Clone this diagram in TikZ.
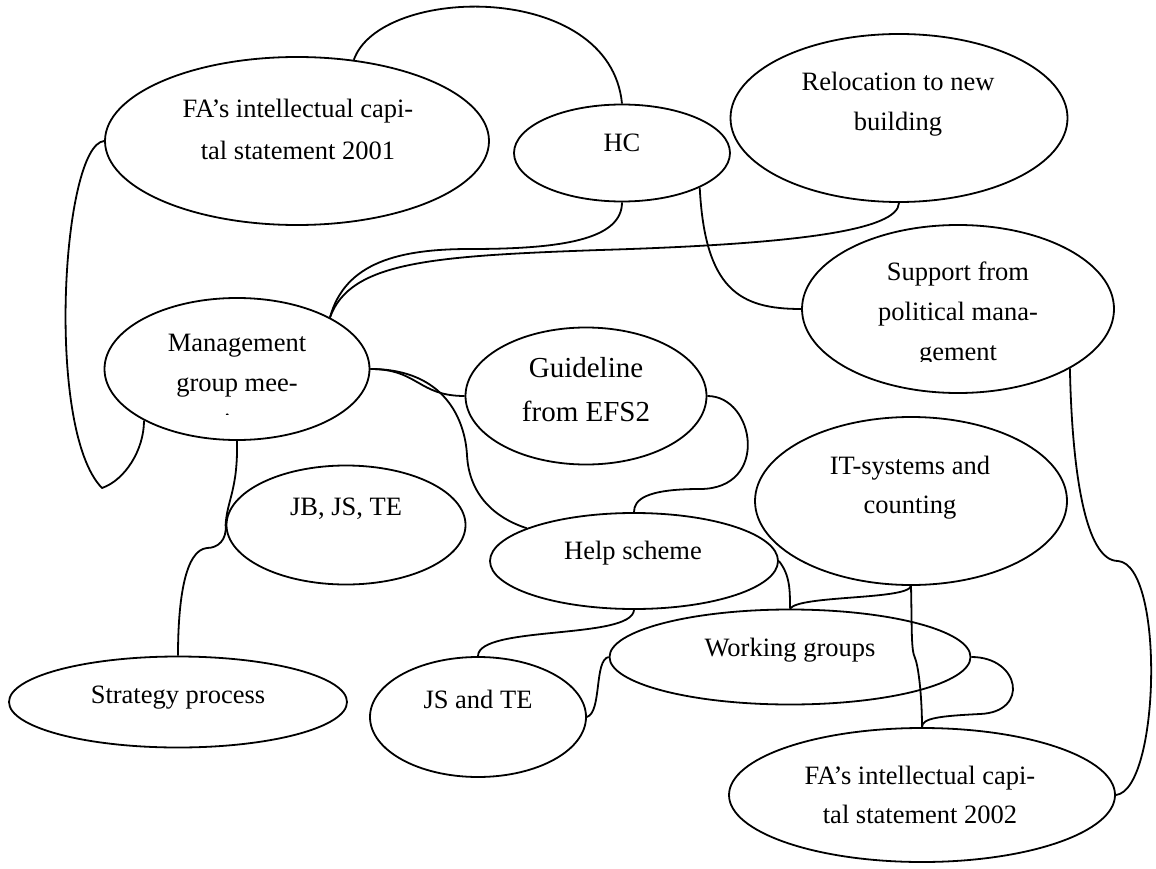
\documentclass[tikz,border=0pt]{standalone}
\usepackage{fontspec}
\setmainfont{Liberation Serif}
\usetikzlibrary{shapes.geometric}
\tikzset{
  bubble/.style={draw,ellipse,line width=1.8pt,inner sep=0pt},
  lbl/.style={anchor=north,align=center,inner sep=0pt,font=\fontsize{26.5}{40}\selectfont},
  link/.style={line width=1.8pt},
}
\begin{document}
\begin{tikzpicture}[x=1pt,y=-1pt,line join=round]
\useasboundingbox[fill=white](0,0) rectangle (1156,869);
\node[bubble,minimum width=384pt,minimum height=168pt] (fa01) at (297,141) {};
\node[bubble,minimum width=216pt,minimum height=97pt] (hc) at (622,153) {};
\node[bubble,minimum width=337pt,minimum height=168pt] (reloc) at (899,118) {};
\node[bubble,minimum width=265pt,minimum height=142pt] (mgmt) at (237,369) {};
\node[bubble,minimum width=241pt,minimum height=137pt] (guide) at (586,396) {};
\node[bubble,minimum width=312pt,minimum height=168pt] (support) at (958,309) {};
\node[bubble,minimum width=239pt,minimum height=119pt] (jbjste) at (346,525) {};
\node[bubble,minimum width=288pt,minimum height=96pt] (help) at (634,561) {};
\node[bubble,minimum width=312pt,minimum height=168pt] (it) at (911,501) {};
\node[bubble,minimum width=338pt,minimum height=91pt] (strat) at (178,702) {};
\node[bubble,minimum width=216pt,minimum height=120pt] (jste) at (478,717) {};
\node[bubble,minimum width=361pt,minimum height=95pt] (work) at (790,657) {};
\node[bubble,minimum width=386pt,minimum height=134pt] (fa02) at (922,795) {};
\node[lbl,font=\fontsize{26.5}{42}\selectfont] (fa01t) at (298,99) {FA’s intellectual capi-\\tal statement 2001};
\node[lbl] (hct) at (622,134) {HC};
\node[lbl] (reloct) at (898,72) {Relocation to new\\building};
\begin{scope}
\clip (105,298) rectangle (370,414.5);
\node[lbl] (mgmtt) at (237,334) {Management\\group mee-\\ting};
\end{scope}
\node[lbl,font=\fontsize{29}{44}\selectfont] (guidet) at (586,357) {Guideline\\from EFS2};
\begin{scope}
\clip (802,225) rectangle (1114,361);
\node[lbl] (supportt) at (958,262) {Support from\\political mana-\\gement};
\end{scope}
\node[lbl] (jbjstet) at (346,498) {JB, JS, TE};
\node[lbl] (helpt) at (633,541) {Help scheme};
\node[lbl,font=\fontsize{26.5}{39}\selectfont] (itt) at (910,456) {IT-systems and\\counting};
\node[lbl] (stratt) at (178,686) {Strategy process};
\node[lbl] (jstet) at (478,690) {JS and TE};
\node[lbl] (workt) at (790,638) {Working groups};
\node[lbl,font=\fontsize{26.5}{39}\selectfont] (fa02t) at (920,766) {FA’s intellectual capi-\\tal statement 2002};
\draw[link] (fa01.55) .. controls (380,-15) and (610,-20) .. (hc.north);
\draw[link] (fa01.west) .. controls (62,145) and (45,430) .. (102,488) .. controls (125,480) and (144,450) .. (mgmt.209);
\draw[link] (mgmt.29) .. controls (345,262) and (400,249) .. (470,249) .. controls (560,249) and (622,240) .. (hc.south);
\draw[link] (mgmt.29) .. controls (350,262) and (430,256) .. (600,250) .. controls (800,244) and (898,230) .. (reloc.south);
\draw[link] (hc.336) .. controls (705,290) and (740,309) .. (support.west);
\draw[link] (mgmt.east) .. controls (418,369) and (418,396) .. (guide.west);
\draw[link] (mgmt.east) .. controls (445,369) and (465,420) .. (467,455) .. controls (469,495) and (495,518) .. (help.163);
\draw[link] (guide.east) .. controls (755,396) and (770,489) .. (700,489) .. controls (645,489) and (634,500) .. (help.north);
\draw[link] (mgmt.south) .. controls (238,490) and (227,500) .. (jbjste.west);
\draw[link] (jbjste.west) .. controls (227,540) and (218,548) .. (207,548) .. controls (185,550) and (178,600) .. (strat.north);
\draw[link] (help.south) .. controls (632,640) and (478,625) .. (jste.north);
\draw[link] (help.east) .. controls (790,575) and (790,590) .. (work.north);
\draw[link] (jste.east) .. controls (602,712) and (594,660) .. (work.west);
\draw[link] (it.south) .. controls (908,600) and (800,595) .. (work.north);
\draw[link] (it.south) .. controls (912,630) and (911,650) .. (915,658) .. controls (919,668) and (922,700) .. (fa02.north);
\draw[link] (work.east) .. controls (1020,657) and (1030,712) .. (980,714) .. controls (940,716) and (922,718) .. (fa02.north);
\draw[link] (support.332) .. controls (1072,470) and (1085,561) .. (1118,561) .. controls (1165,565) and (1160,790) .. (fa02.east);
\end{tikzpicture}
\end{document}
